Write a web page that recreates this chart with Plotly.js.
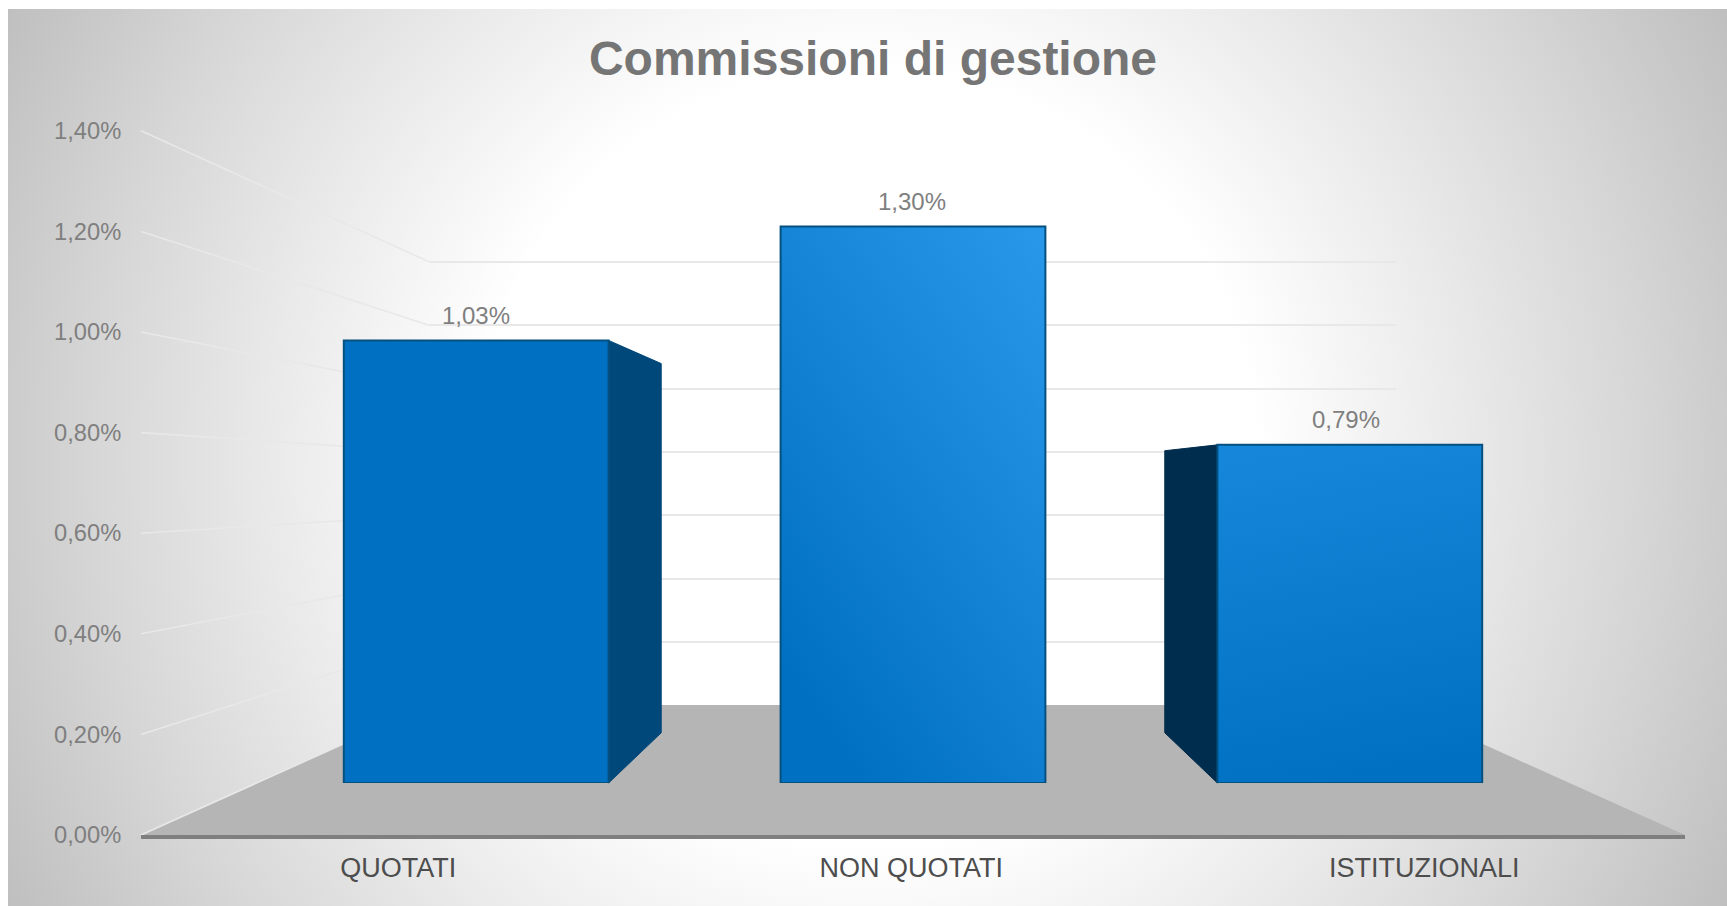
<!DOCTYPE html>
<html>
<head>
<meta charset="utf-8">
<script src="https://cdn.plot.ly/plotly-3.0.1.min.js"></script>
<style>
html,body{margin:0;padding:0;background:#fff;overflow:hidden}
#bg{position:absolute;left:8px;top:9px;width:1719px;height:897px;
 background:radial-gradient(circle 970px at 859px 448px,#ffffff 0%,#ffffff 40%,#e9e9e9 62%,#d6d6d6 80%,#bfbfbf 100%);}
#chart{position:absolute;left:0;top:0;width:1727px;height:906px}
</style>
</head>
<body>
<div id="bg"></div>
<div id="chart"></div>
<script>
const titleText = 'Commissioni di gestione';
const categories = ['QUOTATI', 'NON QUOTATI', 'ISTITUZIONALI'];
const values = [1.034, 1.30, 0.79];
const valueLabels = ['1,03%', '1,30%', '0,79%'];
const tickValues = [0, 0.2, 0.4, 0.6, 0.8, 1.0, 1.2, 1.4];
const tickLabels = ['0,00%', '0,20%', '0,40%', '0,60%', '0,80%', '1,00%', '1,20%', '1,40%'];

const W = 1727, H = 906;
const VX = 913, VY = 480, FLOOR_Y = 835, HALF = 772;
// depth planes: x scale, y scale, height of 1.00 on screen
const FRONT = {sx: 1, sy: 1, unit: 503};
const BAR_FRONT = {sx: 0.8487, sy: 0.8535, unit: 428};
const BAR_BACK = {sx: 0.702, sy: 0.712, unit: 357};
const WALL = {sx: 0.626, sy: 0.634, unit: 316.4};
const catW = 2 * HALF / categories.length;
const barHalf = 156;

const project = (u, v, p) => [VX + u * p.sx, VY + (FLOOR_Y - VY) * p.sy - v * p.unit];
const centre = i => (i - (categories.length - 1) / 2) * catW;
const dx = (a, b) => [a / W, b / W];
const dy = (top, bottom) => [1 - bottom / H, 1 - top / H];
const vmax = tickValues[tickValues.length - 1];
const head = 1.05;                       // head-room so the top gridline is not on the range edge
const plane = p => ({
  x: dx(VX - HALF * p.sx, VX + HALF * p.sx),
  y: dy(project(0, vmax * head, p)[1], project(0, 0, p)[1])
});
const axisFont = {family: '"Liberation Sans", Arial, sans-serif'};
const hidden = {visible: false, fixedrange: true};

const traces = [];
const poly = (pts, fill, line, lw) => traces.push({
  type: 'scatter', mode: 'lines', xaxis: 'x2', yaxis: 'y2', hoverinfo: 'skip', showlegend: false,
  x: pts.map(p => p[0]).concat([pts[0][0]]), y: pts.map(p => p[1]).concat([pts[0][1]]),
  fill: 'toself', fillcolor: fill, line: {color: line, width: lw}
});

traces.push({type: 'scatter', mode: 'none', x: [0, 1, 2], y: values, xaxis: 'x', yaxis: 'y', hoverinfo: 'skip', showlegend: false});

// floor
poly([project(-HALF, 0, FRONT), project(HALF, 0, FRONT), project(HALF, 0, WALL), project(-HALF, 0, WALL)], '#b5b5b5', '#b5b5b5', 0);

// left-wall perspective lines
tickValues.forEach(v => {
  const a = project(-HALF, v, FRONT), b = project(-HALF, v, WALL);
  traces.push({type: 'scatter', mode: 'lines', xaxis: 'x2', yaxis: 'y2', hoverinfo: 'skip', showlegend: false,
    x: [a[0], b[0]], y: [a[1], b[1]], line: {color: '#e8e8e8', width: 1.6}});
});

// visible side faces of the bars
const sideColours = ['#00477a', null, '#002d4d'];
values.forEach((v, i) => {
  if (!sideColours[i]) return;
  const edge = centre(i) + (centre(i) < 0 ? barHalf : -barHalf);
  poly([project(edge, 0, BAR_FRONT), project(edge, v, BAR_FRONT), project(edge, v, BAR_BACK), project(edge, 0, BAR_BACK)],
       sideColours[i], sideColours[i], 1);
});

// front of the bars
traces.push({
  type: 'bar', x: categories, y: values, xaxis: 'x3', yaxis: 'y3', hoverinfo: 'skip', showlegend: false,
  marker: {color: ['#0070c2', '#0f7fd3', '#0d7ccf'], line: {color: '#04507f', width: 2}}
});

// front axes: labels and base line
traces.push({type: 'scatter', mode: 'none', x: [0, 1, 2], y: values, xaxis: 'x4', yaxis: 'y4', hoverinfo: 'skip', showlegend: false});

const wall = plane(WALL), bars = plane(BAR_FRONT), front = plane(FRONT);
const barPlaneX = dx(VX + (centre(0) - catW / 2) * BAR_FRONT.sx, VX + (centre(2) + catW / 2) * BAR_FRONT.sx);

const labelSpacing = 0.9968;
const labelNudge = [0, -1, -4];

const layout = {
  width: W, height: H, autosize: false,
  margin: {l: 0, r: 0, t: 0, b: 0, pad: 0},
  paper_bgcolor: 'rgba(0,0,0,0)', plot_bgcolor: 'rgba(0,0,0,0)',
  showlegend: false, bargap: 1 - 2 * barHalf / catW,
  font: axisFont,
  title: {text: titleText, x: 873 / W, xanchor: 'center', xref: 'paper', y: 1 - 58 / H, yanchor: 'middle', yref: 'paper',
          font: {family: axisFont.family, size: 48, color: '#757575', weight: 700}},
  // back wall with the gridlines
  xaxis: {...hidden, domain: wall.x, range: [-0.5, 2.5], anchor: 'y'},
  yaxis: {domain: wall.y, range: [0, vmax * head], anchor: 'x', fixedrange: true, tickvals: tickValues, showticklabels: false,
          ticks: '', showline: false, zeroline: false, showgrid: true, gridcolor: '#e8e8e8', gridwidth: 2},
  // pixel-projection overlay for floor, wall lines and side faces
  xaxis2: {...hidden, domain: [0, 1], range: [0, W], anchor: 'y2'},
  yaxis2: {...hidden, domain: [0, 1], range: [H, 0], anchor: 'x2'},
  // plane of the bar fronts
  xaxis3: {...hidden, domain: barPlaneX, type: 'category', categoryorder: 'array', categoryarray: categories, range: [-0.5, 2.5], anchor: 'y3'},
  yaxis3: {...hidden, domain: bars.y, range: [0, vmax * head], anchor: 'x3'},
  // front plane: what the axis labels read from
  xaxis4: {domain: front.x, range: [-0.5, 2.5], anchor: 'y4', fixedrange: true,
           tickvals: categories.map((c, i) => i * labelSpacing), ticktext: categories,
           showgrid: false, zeroline: false, showline: true, linecolor: '#7f7f7f', linewidth: 4,
           ticks: 'outside', ticklen: 6, tickcolor: 'rgba(0,0,0,0)',
           tickfont: {family: axisFont.family, size: 27, color: '#4d4d4d'}},
  yaxis4: {domain: front.y, range: [0, vmax * head], anchor: 'x4', fixedrange: true, side: 'left',
           tickvals: tickValues, ticktext: tickLabels, showgrid: false, zeroline: false, showline: false,
           ticks: 'outside', ticklen: 14, tickcolor: 'rgba(0,0,0,0)',
           tickfont: {family: axisFont.family, size: 23.7, color: '#7f7f7f'}},
  annotations: categories.map((c, i) => ({
    xref: 'x3', yref: 'y3', x: c, y: values[i], text: valueLabels[i], showarrow: false,
    yshift: 25, xshift: labelNudge[i], yanchor: 'middle', xanchor: 'center',
    font: {family: axisFont.family, size: 24, color: '#7f7f7f'}
  }))
};

// gradients on the bar fronts: [x1, y1, x2, y2, stops]
const barGradients = [
  null,
  [0.3, 1, 1, 0, ['#0070c2', '#2a98ea']],
  [0.5, 1, 0.35, 0, ['#0070c2', '#1686da']]
];

Plotly.newPlot('chart', traces, layout, {displayModeBar: false, staticPlot: true}).then(gd => {
  const NS = 'http://www.w3.org/2000/svg';
  const defs = gd.querySelector('svg.main-svg defs');
  gd.querySelectorAll('.barlayer .point path').forEach((p, i) => {
    const g = barGradients[i];
    if (!g) return;
    const lg = document.createElementNS(NS, 'linearGradient');
    lg.setAttribute('id', 'barfill' + i);
    ['x1', 'y1', 'x2', 'y2'].forEach((k, j) => lg.setAttribute(k, g[j]));
    g[4].forEach((c, j) => {
      const st = document.createElementNS(NS, 'stop');
      st.setAttribute('offset', j / (g[4].length - 1));
      st.setAttribute('stop-color', c);
      lg.appendChild(st);
    });
    defs.appendChild(lg);
    p.style.fill = 'url(#barfill' + i + ')';
  });
});
</script>
</body>
</html>
